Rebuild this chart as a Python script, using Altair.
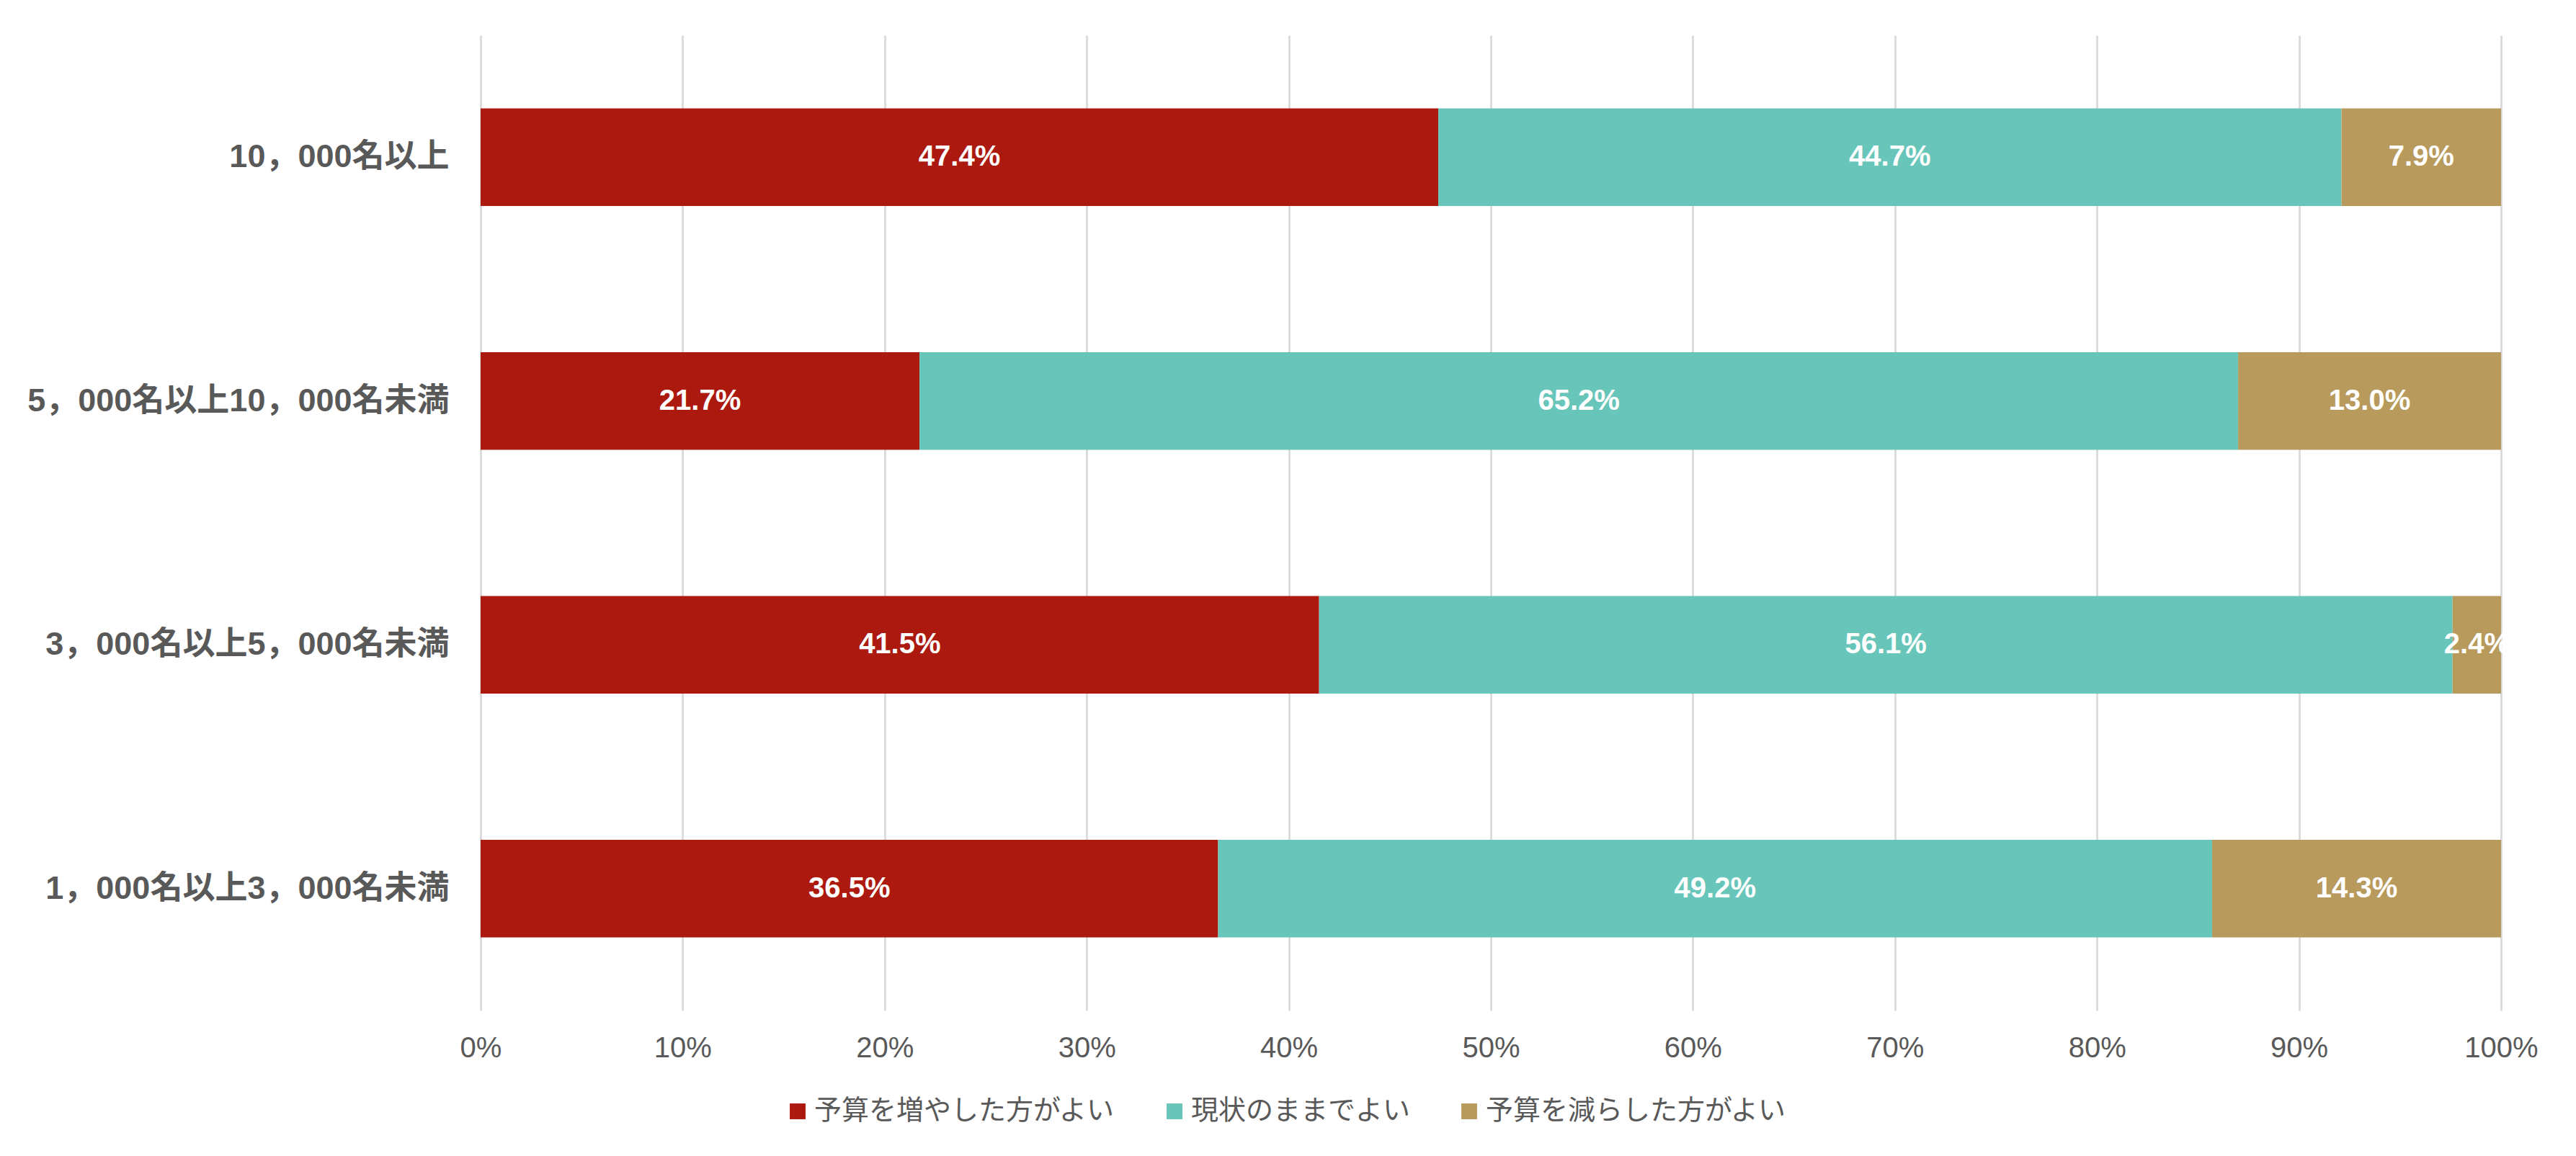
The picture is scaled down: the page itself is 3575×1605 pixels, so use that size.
import altair as alt
import pandas as pd

categories = ["10，000名以上", "5，000名以上10，000名未満", "3，000名以上5，000名未満", "1，000名以上3，000名未満"]
series = ["予算を増やした方がよい", "現状のままでよい", "予算を減らした方がよい"]
colors = ["#AC190E", "#67C6B9", "#B89A5C"]
increase = [47.4, 21.7, 41.5, 36.5]
same = [44.7, 65.2, 56.1, 49.2]
decrease = [7.9, 13.0, 2.4, 14.3]

rows = []
for i, c in enumerate(categories):
    for j, (s, vals) in enumerate(zip(series, [increase, same, decrease])):
        rows.append({"cat": c, "series": s, "order": j, "value": vals[i]})
df = pd.DataFrame(rows)

FONT = "'Liberation Sans', 'Noto Sans CJK JP', sans-serif"
GREY = "#595959"

base = alt.Chart(df).transform_stack(
    stack="value", groupby=["cat"], as_=["v0", "v1"],
    sort=[alt.SortField("order", order="ascending")], offset="normalize"
).transform_calculate(
    mid="(datum.v0 + datum.v1) / 2",
    label="format(datum.value, '.1f') + '%'"
)

y_enc = alt.Y("cat:N", sort=categories, title=None,
              scale=alt.Scale(paddingInner=0.6, paddingOuter=0.3),
              axis=alt.Axis(labelFont=FONT, labelFontSize=45, labelFontWeight="bold",
                            labelColor=GREY, ticks=False, domain=False, grid=False,
                            labelPadding=44, labelLimit=0))

bars = base.mark_bar().encode(
    x=alt.X("v0:Q", title=None,
            scale=alt.Scale(domain=[0, 1], nice=False),
            axis=alt.Axis(format=".0%", values=[i / 10 for i in range(11)],
                          labelFont=FONT, labelFontSize=40, labelColor=GREY,
                          labelFlush=False,
                          ticks=False, domain=False, grid=True,
                          gridColor="#D9D9D9", gridWidth=2.7, labelPadding=32)),
    x2="v1:Q",
    y=y_enc,
    color=alt.Color("series:N", sort=series,
                    scale=alt.Scale(domain=series, range=colors),
                    legend=alt.Legend(title=None, orient="none", direction="horizontal",
                                      legendX=421, legendY=1475,
                                      symbolType="square", symbolSize=480,
                                      symbolStrokeWidth=0, labelFont=FONT,
                                      labelFontSize=38, labelColor=GREY,
                                      labelOffset=4, columnPadding=62, labelLimit=0)),
    order=alt.Order("order:Q"),
)

texts = base.mark_text(color="white", font=FONT, fontSize=40, fontWeight="bold",
                       baseline="middle", align="center").encode(
    x=alt.X("mid:Q"),
    y=alt.Y("cat:N", sort=categories),
    text="label:N",
)

chart = alt.layer(bars, texts).properties(
    width=2804, height=1354,
    background="white",
    autosize=alt.AutoSizeParams(type="none"),
    padding={"left": 659, "top": 41, "right": 96, "bottom": 190},
).configure_view(strokeWidth=0, stroke="transparent")

chart.save("out.html", embed_options={"renderer": "svg", "actions": False})
